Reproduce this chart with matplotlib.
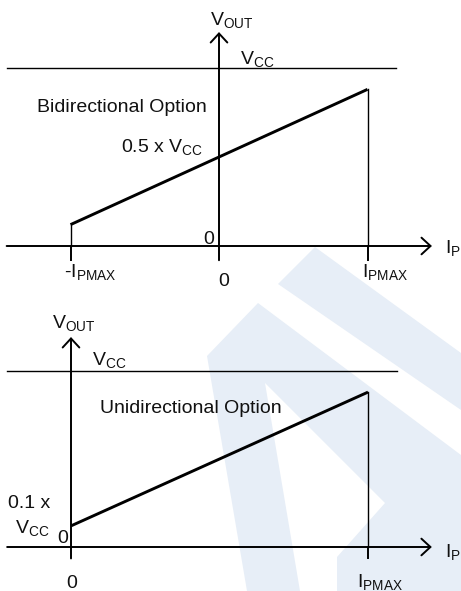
import numpy as np
import matplotlib.pyplot as plt
from matplotlib.patches import Polygon

plt.rcParams['font.family'] = ['Liberation Sans', 'DejaVu Sans']
plt.rcParams['mathtext.default'] = 'regular'

W, H = 461, 591

# transfer curves, current in units of I_PMAX, output in units of Vcc
bi_current = [-1.0, 0.0, 1.0]
bi_vout = [0.12, 0.5, 0.88]
uni_current = [0.0, 1.0]
uni_vout = [0.12, 0.88]

top_ticks = [-1.0, 1.0]
bot_ticks = [1.0]

vcc = 1.0

fig = plt.figure(figsize=(W / 100, H / 100), dpi=100)

# faint watermark behind everything
bg = fig.add_axes([0, 0, 1, 1])
bg.set_xlim(0, W)
bg.set_ylim(H, 0)
bg.axis('off')
wm = '#e7eef7'
shapes = [
    [(278, 284), (315, 247), (461, 353), (461, 410)],
    [(207, 356), (258, 303), (461, 455), (461, 591), (337, 591), (337, 557),
     (385, 503), (265, 383), (300, 591), (247, 591)],
]
for s in shapes:
    bg.add_patch(Polygon(s, closed=True, facecolor=wm, edgecolor='none', zorder=0))


def panel(x0, xs, y0, ys, top, bot):
    # axes spanning full width; x0/y0 = pixel of origin, xs/ys = pixels per unit
    ax = fig.add_axes([0, 1 - bot / H, 1, (bot - top) / H])
    ax.set_xlim(-x0 / xs, (W - x0) / xs)
    ax.set_ylim((y0 - bot) / ys, (y0 - top) / ys)
    ax.axis('off')
    ax.patch.set_visible(False)
    return ax


def arrow(ax, start, tip):
    ax.annotate('', xy=tip, xytext=start,
                arrowprops=dict(arrowstyle='->,head_length=0.65,head_width=0.6',
                                lw=1.4, color='k', shrinkA=0, shrinkB=0,
                                mutation_scale=10))


def txt(x, y, s, ha='left', size=14):
    fig.text(x / W, 1 - y / H, s, ha=ha, va='baseline', fontsize=size, color='#111111')


# ---- bidirectional
ax1 = panel(219, 148.5, 246, 178, 0, 295)
arrow(ax1, (-1.43, 0), (1.434, 0))
arrow(ax1, (0, -0.08), (0, 1.202))
ax1.plot([-1.43, 1.19], [vcc, vcc], color='k', lw=1.0)
ax1.plot(bi_current, bi_vout, color='k', lw=2.1, solid_capstyle='butt')
for t in top_ticks:
    ax1.plot([t, t], [-0.08, 0], color='k', lw=1.4)
ax1.plot([bi_current[0]] * 2, [0, bi_vout[0]], color='k', lw=1.0)
ax1.plot([bi_current[-1]] * 2, [0, bi_vout[-1]], color='k', lw=1.0)

txt(210, 25, r'V$_{OUT}$')
txt(240, 64, r'V$_{CC}$')
txt(37, 112, 'Bidirectional Option')
txt(203, 152, r'0.5 x V$_{CC}$', ha='right')
txt(214, 244, '0', ha='right')
txt(64, 277, r'-I$_{PMAX}$')
txt(224, 286, '0', ha='center')
txt(362, 277, r'I$_{PMAX}$')
txt(445, 253, r'I$_{P}$')

# ---- unidirectional
ax2 = panel(71, 297, 547, 176, 295, H)
arrow(ax2, (-0.215, 0), (1.215, 0))
arrow(ax2, (0, -0.065), (0, 1.193))
ax2.plot([-0.215, 1.098], [vcc, vcc], color='k', lw=1.0)
ax2.plot(uni_current, uni_vout, color='k', lw=2.1, solid_capstyle='butt')
for t in bot_ticks:
    ax2.plot([t, t], [-0.065, 0], color='k', lw=1.4)
ax2.plot([uni_current[-1]] * 2, [0, uni_vout[-1]], color='k', lw=1.0)

txt(52, 328, r'V$_{OUT}$')
txt(92, 365, r'V$_{CC}$')
txt(100, 413, 'Unidirectional Option')
txt(8, 508, '0.1 x')
txt(15, 533, r'V$_{CC}$')
txt(68, 543, '0', ha='right')
txt(72, 588, '0', ha='center')
txt(357, 587, r'I$_{PMAX}$')
txt(445, 557, r'I$_{P}$')

fig.savefig('out.png', dpi=100)
